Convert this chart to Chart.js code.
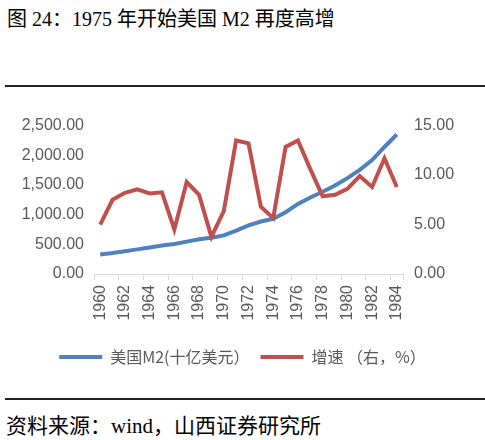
<!DOCTYPE html>
<html>
<head>
<meta charset="utf-8">
<script src="https://cdn.jsdelivr.net/npm/chart.js@4/dist/chart.umd.min.js"></script>
<style>
    html, body { margin: 0; padding: 0; background: #fff; }
    body { width: 485px; height: 440px; position: relative; overflow: hidden; }
    .title {
        position: absolute; left: 7px; top: 3px;
        font: 20px "Liberation Serif", "Noto Sans CJK SC", serif;
        color: #000; white-space: nowrap;
    }
    .rule { position: absolute; left: 5px; right: 0; height: 2px; background: #222; }
    .source {
        position: absolute; left: 6px; top: 409px;
        font: 21px "Liberation Serif", "Noto Sans CJK SC", serif;
        color: #000; white-space: nowrap;
    }
    #wrap { position: absolute; left: 0; top: 105px; width: 485px; height: 270px; }
</style>
</head>
<body>
<div class="title">图 24：1975 年开始美国 M2 再度高增</div>
<div class="rule" style="top:85px"></div>
<div id="wrap"><canvas id="chart"></canvas></div>
<div class="rule" style="top:398px"></div>
<div class="source">资料来源：wind，山西证券研究所</div>

<script>
    // Data
    const years = ['1960', '1961', '1962', '1963', '1964', '1965', '1966', '1967', '1968', '1969',
        '1970', '1971', '1972', '1973', '1974', '1975', '1976', '1977', '1978', '1979',
        '1980', '1981', '1982', '1983', '1984'];
    const m2 = [330, 355, 385, 415, 445, 480, 505, 545, 585, 610,
        650, 730, 820, 885, 930, 1040, 1180, 1290, 1385, 1490,
        1615, 1755, 1920, 2140, 2350];
    const growth = [5.0, 7.5, 8.2, 8.55, 8.15, 8.25, 4.5, 9.3, 8.0, 3.75,
        6.35, 13.5, 13.2, 6.8, 5.65, 12.85, 13.5, 10.6, 7.85, 8.0,
        8.6, 9.9, 8.8, 11.7, 8.8];
    const leftTicks = [0, 500, 1000, 1500, 2000, 2500];
    const rightTicks = [0, 5, 10, 15];

    const gray = '#595959';
    const axisGray = '#d9d9d9';
    const tickFont = { family: '"Liberation Sans", Arial, sans-serif', size: 16 };

    const ctx = document.getElementById('chart').getContext('2d');
    new Chart(ctx, {
        type: 'line',
        data: {
            labels: years,
            datasets: [
                {
                    label: '美国M2(十亿美元）',
                    data: m2,
                    yAxisID: 'y',
                    borderColor: '#4F81BD',
                    backgroundColor: '#4F81BD',
                    borderWidth: 4,
                    pointRadius: 0,
                    tension: 0,
                    order: 1
                },
                {
                    label: '增速 （右，%）',
                    data: growth,
                    yAxisID: 'y1',
                    borderColor: '#C0504D',
                    backgroundColor: '#C0504D',
                    borderWidth: 4,
                    pointRadius: 0,
                    tension: 0,
                    order: 0
                }
            ]
        },
        options: {
            responsive: true,
            maintainAspectRatio: false,
            animation: false,
            layout: { padding: { top: 20, bottom: 0, left: 0, right: 0 } },
            plugins: {
                tooltip: { enabled: false },
                legend: {
                    position: 'bottom',
                    labels: {
                        usePointStyle: true,
                        pointStyle: 'line',
                        pointStyleWidth: 43,
                        padding: 11,
                        color: gray,
                        font: { family: '"Noto Sans CJK SC", sans-serif', size: 16 },
                        sort: (a, b) => a.datasetIndex - b.datasetIndex
                    }
                }
            },
            scales: {
                x: {
                    offset: true,
                    grid: {
                        offset: true,
                        drawOnChartArea: false,
                        drawTicks: true,
                        tickLength: 6,
                        color: (c) => (c.type !== 'tick' || c.index % 2 === 0) ? axisGray : 'rgba(0,0,0,0)'
                    },
                    border: { display: true, color: axisGray, width: 1 },
                    ticks: {
                        autoSkip: false,
                        minRotation: 90,
                        maxRotation: 90,
                        padding: 5,
                        color: gray,
                        font: tickFont,
                        callback: (v, i) => i % 2 === 0 ? years[i] : ''
                    },
                    afterFit: (scale) => { scale.height = 64; }
                },
                y: {
                    position: 'left',
                    min: leftTicks[0],
                    max: leftTicks[leftTicks.length - 1],
                    grid: { display: false, drawTicks: false },
                    border: { display: false },
                    afterBuildTicks: (scale) => { scale.ticks = leftTicks.map(v => ({ value: v })); },
                    ticks: {
                        padding: 10,
                        color: gray,
                        font: tickFont,
                        callback: (v) => Number(v).toLocaleString('en-US', { minimumFractionDigits: 2, maximumFractionDigits: 2 })
                    },
                    afterFit: (scale) => { scale.width = 94; }
                },
                y1: {
                    position: 'right',
                    min: rightTicks[0],
                    max: rightTicks[rightTicks.length - 1],
                    grid: { display: false, drawTicks: false },
                    border: { display: false },
                    afterBuildTicks: (scale) => { scale.ticks = rightTicks.map(v => ({ value: v })); },
                    ticks: {
                        padding: 11,
                        color: gray,
                        font: tickFont,
                        callback: (v) => Number(v).toFixed(2)
                    },
                    afterFit: (scale) => { scale.width = 82; }
                }
            }
        }
    });
</script>
</body>
</html>
